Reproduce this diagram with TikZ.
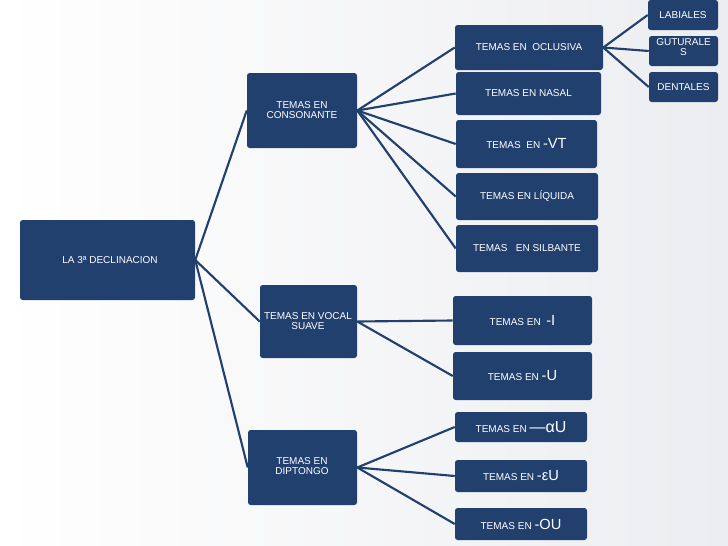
\documentclass[tikz,border=0pt]{standalone}
\usepackage{fontspec}
\setmainfont{Liberation Sans}
\definecolor{navy}{RGB}{34,64,110}
\definecolor{bg}{RGB}{236,237,240}
\tikzset{
  box/.style={fill=navy,rounded corners=2pt,text=white,font=\fontsize{7.5}{8}\selectfont,align=center,inner sep=1pt},
  link/.style={draw=navy,line width=1.6pt},
  big/.style={font=\fontsize{11}{11}\selectfont}
}
\newcommand{\bx}[6]{% name, x1, y1, x2, y2, text
  \node[box,minimum width={(#4-#2)*0.75pt},minimum height={(#5-#3)*0.75pt}] (#1) at ({(#2+#4)/2},{(#3+#5)/2}) {};
}
\begin{document}
\begin{tikzpicture}[x=0.75pt,y=-0.75pt]
	\shade[left color=white,right color=bg] (0,0) rectangle (728,546);
	\useasboundingbox (0,0) rectangle (728,546);
	% boxes
	\bx{root}{20}{220}{195}{300}{}
	\bx{cons}{247}{73}{357}{148}{}
	\bx{voc}{260}{285}{357}{358}{}
	\bx{dip}{248}{430}{357}{505}{}
	\bx{ocl}{455}{25}{603}{70}{}
	\bx{nas}{456}{72}{601}{115}{}
	\bx{vt}{456}{120}{597}{168}{}
	\bx{liq}{456}{173}{598}{220}{}
	\bx{sil}{456}{225}{598}{272}{}
	\bx{vi}{453}{296}{592}{345}{}
	\bx{vu}{453}{352}{592}{400}{}
	\bx{au}{455}{412}{587}{442}{}
	\bx{eu}{455}{460}{587}{492}{}
	\bx{ou}{455}{508}{587}{540}{}
	\bx{lab}{648}{0}{718}{30}{}
	\bx{gut}{649}{36}{718}{66}{}
	\bx{den}{649}{72}{718}{102}{}
	% texts
	\node[box,fill=none] (troot) at (110,260) {LA 3ª DECLINACION};
	\node[box,fill=none] (tcons) at (302,110) {TEMAS EN\\CONSONANTE};
	\node[box,fill=none] (tvoc) at (308,321) {TEMAS EN VOCAL\\SUAVE};
	\node[box,fill=none] (tdip) at (302,466) {TEMAS EN\\DIPTONGO};
	\node[box,fill=none] at (ocl) {TEMAS EN\ \ OCLUSIVA};
	\node[box,fill=none] at (nas) {TEMAS EN NASAL};
	\node[box,fill=none] at (vt) {TEMAS\ \ EN {\fontsize{11}{11}\selectfont -VT}};
	\node[box,fill=none] at (liq) {TEMAS EN LÍQUIDA};
	\node[box,fill=none] at (sil) {TEMAS\ \ \ EN SILBANTE};
	\node[box,fill=none] at (vi) {TEMAS EN\ \ {\fontsize{11}{11}\selectfont -I}};
	\node[box,fill=none] at (vu) {TEMAS EN {\fontsize{11}{11}\selectfont -U}};
	\node[box,fill=none] at (au) {TEMAS EN {\fontsize{12}{12}\selectfont —αU}};
	\node[box,fill=none] at (eu) {TEMAS EN {\fontsize{11}{11}\selectfont -εU}};
	\node[box,fill=none] at (ou) {TEMAS EN {\fontsize{11}{11}\selectfont -OU}};
	\node[box,fill=none] at (683,15) {LABIALES};
	\node[box,fill=none] at (683.5,47) {GUTURALE\\S};
	\node[box,fill=none] at (683.5,87) {DENTALES};
	% connectors
	\draw[link] (root.east) -- (cons.west);
	\draw[link] (root.east) -- (voc.west);
	\draw[link] (root.east) -- (dip.west);
	\foreach \c in {ocl,nas,vt,liq,sil}
		\draw[link] (cons.east) -- (\c.west);
	\foreach \c in {vi,vu}
		\draw[link] (voc.east) -- (\c.west);
	\foreach \c in {au,eu,ou}
		\draw[link] (dip.east) -- (\c.west);
	\foreach \c in {lab,gut,den}
		\draw[link] (ocl.east) -- (\c.west);
\end{tikzpicture}
\end{document}
